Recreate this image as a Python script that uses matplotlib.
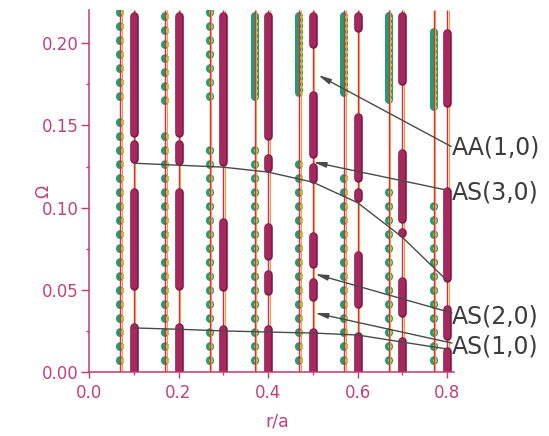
import matplotlib
matplotlib.use("Agg")
import matplotlib.pyplot as plt
from matplotlib.ticker import MultipleLocator, FormatStrFormatter

plt.rcParams['lines.scale_dashes'] = False
plt.rcParams['font.family'] = ['DejaVu Sans']

# ---------------- data ----------------
# positions of the two families of vertical lines (r/a)
mode_x = [0.1, 0.2, 0.3, 0.4, 0.5, 0.6, 0.7, 0.8]
grid_x = [0.07, 0.17, 0.27, 0.37, 0.47, 0.57, 0.67, 0.77]

# maroon bands (Omega ranges) on each mode line
maroon_01 = [(0.0, 0.0298), (0.050, 0.112), (0.127, 0.141), (0.143, 0.219)]
maroon_02 = [(0.0, 0.0298), (0.050, 0.112), (0.126, 0.141), (0.143, 0.219)]
maroon_03 = [(0.0, 0.0286), (0.049, 0.0935), (0.097, 0.1005), (0.125, 0.219)]
maroon_04 = [(0.0, 0.0286), (0.047, 0.062), (0.068, 0.091), (0.094, 0.097),
             (0.1216, 0.133), (0.141, 0.219)]
maroon_05 = [(0.0, 0.0267), (0.043, 0.057), (0.063, 0.085), (0.115, 0.127),
             (0.130, 0.171), (0.197, 0.219)]
maroon_06 = [(0.0, 0.0243), (0.039, 0.074), (0.103, 0.112), (0.1155, 0.1575),
             (0.207, 0.219)]
maroon_07 = [(0.0, 0.0213), (0.0334, 0.0578), (0.082, 0.088), (0.0906, 0.136),
             (0.1745, 0.219)]
maroon_08 = [(0.0, 0.0152), (0.0195, 0.0407), (0.0547, 0.1125), (0.161, 0.209)]
maroon_bands = [maroon_01, maroon_02, maroon_03, maroon_04,
                maroon_05, maroon_06, maroon_07, maroon_08]

# green dotted ranges (sparse) and dense green bands on the grid lines
green_sparse = [
    [(0.0067, 0.157), (0.167, 0.219)],
    [(0.0067, 0.151), (0.165, 0.219)],
    [(0.0067, 0.143), (0.167, 0.219)],
    [(0.0067, 0.137)],
    [(0.0067, 0.129)],
    [(0.0067, 0.1186)],
    [(0.0067, 0.1107)],
    [(0.0067, 0.1015)],
]
green_dense = [
    [], [], [],
    [(0.165, 0.219)],
    [(0.167, 0.219)],
    [(0.167, 0.219)],
    [(0.163, 0.219)],
    [(0.159, 0.209)],
]

# connecting curves
upper_curve_x = [0.1, 0.2, 0.3, 0.4, 0.5, 0.6, 0.7, 0.8]
upper_curve_y = [0.127, 0.1258, 0.1246, 0.1216, 0.1155, 0.103, 0.082, 0.0556]
lower_curve_x = [0.1, 0.2, 0.3, 0.4, 0.5, 0.6, 0.7, 0.8]
lower_curve_y = [0.0268, 0.026, 0.025, 0.0243, 0.0237, 0.0225, 0.0182, 0.014]

# labels and arrows
labels = ["AA(1,0)", "AS(3,0)", "AS(2,0)", "AS(1,0)"]
label_y = [0.1368, 0.1090, 0.0340, 0.0158]
arrow_tip = [(0.512, 0.1806), (0.501, 0.1277), (0.505, 0.0596), (0.505, 0.0359)]
arrow_tail = [(0.809, 0.1372), (0.793, 0.111), (0.811, 0.0359), (0.811, 0.0176)]

x_ticks = [0.0, 0.2, 0.4, 0.6, 0.8]
y_ticks = [0.00, 0.05, 0.10, 0.15, 0.20]

# ---------------- styling ----------------
AX_COL = '#c4386f'
TXT_COL = '#c4407c'
RED = '#d92848'
ORANGE = '#f0a030'
GREEN = '#1f9e74'
YELLOW = '#e2df3c'
MAROON = '#a8285e'
MAROON_EDGE = '#7e1b48'
GRAY = '#4a4a4a'

W, H, DPI = 549, 436, 100
fig = plt.figure(figsize=(W / DPI, H / DPI), dpi=DPI)
ax_l, ax_r, ax_b, ax_t = 89, 454, 372, 10
ax = fig.add_axes([ax_l / W, (H - ax_b) / H, (ax_r - ax_l) / W, (ax_b - ax_t) / H])
XMAX, YMAX = 0.8155, 0.2202
ax.set_xlim(0, XMAX)
ax.set_ylim(0, YMAX)

px_to_dy = YMAX / (ax_b - ax_t)
px_to_dx = XMAX / (ax_r - ax_l)
pt = 72.0 / DPI  # points per pixel

# vertical lines
for xv in mode_x + grid_x:
    ax.plot([xv, xv], [0, YMAX], color=RED, lw=1.0, zorder=2, solid_capstyle='butt')
    ax.plot([xv + 1.6 * px_to_dx] * 2, [0, YMAX], color=ORANGE, lw=0.8, zorder=2,
            solid_capstyle='butt')

# green dots
dot_pitch = 14 * pt
for xv, segs in zip(grid_x, green_sparse):
    for lo, hi in segs:
        ax.plot([xv, xv], [lo, hi], color=GREEN, lw=8 * pt,
                linestyle=(0, (0.6, dot_pitch - 0.6)), dash_capstyle='round', zorder=1.5)
        ax.plot([xv + 1.5 * px_to_dx] * 2, [lo, hi], color=YELLOW, lw=3.6 * pt,
                linestyle=(0, (0.6, dot_pitch - 0.6)), dash_capstyle='round', zorder=1.6)
for xv, segs in zip(grid_x, green_dense):
    for lo, hi in segs:
        cap = 4 * px_to_dy
        ax.plot([xv, xv], [lo + cap, hi - cap], color=GREEN, lw=8 * pt,
                solid_capstyle='round', zorder=1.5)
        ax.plot([xv + 1.5 * px_to_dx] * 2, [lo + cap, hi - cap], color=YELLOW, lw=2.8 * pt,
                linestyle=(0, (0.6, 5 * pt)), dash_capstyle='round', zorder=1.6)

# maroon bands
cap = 4.2 * px_to_dy
for xv, segs in zip(mode_x, maroon_bands):
    for lo, hi in segs:
        a = lo if lo <= 0 else lo + cap
        b = hi - cap
        if b < a:
            a = b = (lo + hi) / 2
        ax.plot([xv, xv], [a, b], color=MAROON_EDGE, lw=8.6 * pt,
                solid_capstyle='round', zorder=3)
        ax.plot([xv, xv], [a, b], color=MAROON, lw=6.0 * pt,
                solid_capstyle='round', zorder=3.1)

# connecting curves
ax.plot(upper_curve_x, upper_curve_y, color=GRAY, lw=1.0, zorder=4)
ax.plot(lower_curve_x, lower_curve_y, color=GRAY, lw=1.0, zorder=4)

# arrows and labels
for tip, tail in zip(arrow_tip, arrow_tail):
    ax.annotate('', xy=tip, xytext=tail, xycoords='data', textcoords='data',
                annotation_clip=False, zorder=5,
                arrowprops=dict(arrowstyle='-|>,head_length=0.75,head_width=0.16',
                                color=GRAY, lw=1.0, shrinkA=0, shrinkB=0))
for lab, ly in zip(labels, label_y):
    ax.text(0.8115, ly, lab, fontsize=17, color='#3c3c3c', ha='left', va='center',
            clip_on=False, zorder=6)

# axes styling
for s in ['top', 'right']:
    ax.spines[s].set_visible(False)
for s in ['left', 'bottom']:
    ax.spines[s].set_color(AX_COL)
    ax.spines[s].set_linewidth(1.1)
    ax.spines[s].set_zorder(7)

ax.set_xticks(x_ticks)
ax.set_yticks(y_ticks)
ax.xaxis.set_minor_locator(MultipleLocator(0.1))
ax.yaxis.set_minor_locator(MultipleLocator(0.025))
ax.xaxis.set_major_formatter(FormatStrFormatter('%.1f'))
ax.yaxis.set_major_formatter(FormatStrFormatter('%.2f'))
ax.tick_params(axis='both', which='both', direction='out', color=AX_COL,
               labelcolor=TXT_COL, labelsize=12, width=1.0)
ax.tick_params(axis='y', which='major', length=5.6, pad=2)
ax.tick_params(axis='x', which='major', length=4.5, pad=4)
ax.tick_params(axis='both', which='minor', length=2.5)

ax.set_xlabel('r/a', color=TXT_COL, fontsize=12.5, va='center')
ax.xaxis.set_label_coords((277 - ax_l) / (ax_r - ax_l), -(421 - ax_b) / (ax_b - ax_t))
ax.set_ylabel('Ω', color=TXT_COL, fontsize=12.5, va='center', ha='center')
ax.yaxis.set_label_coords((43 - ax_l) / (ax_r - ax_l), 0.5)

fig.savefig('out.png', dpi=DPI, facecolor='white')
